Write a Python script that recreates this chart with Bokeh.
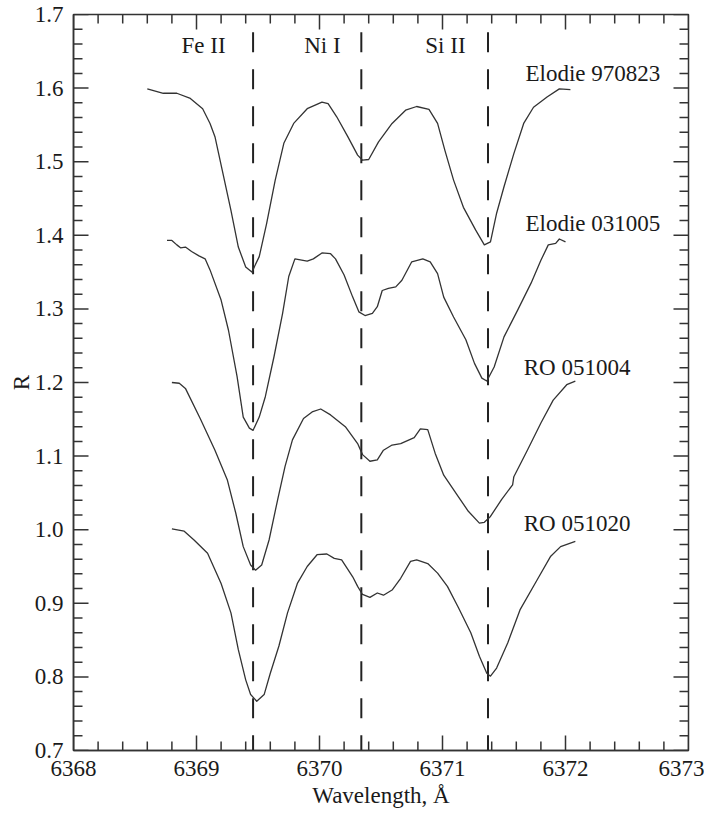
import numpy as np
from bokeh.plotting import figure
from bokeh.models import FixedTicker, NumeralTickFormatter, Label
from bokeh.embed import file_html
from bokeh.resources import INLINE

# ---------------- data ----------------
x_elodie_970823 = [6368.60, 6368.73, 6368.84, 6368.95, 6369.05, 6369.11, 6369.15, 6369.21, 6369.28,
                   6369.34, 6369.40, 6369.45, 6369.51, 6369.57, 6369.64, 6369.71, 6369.79, 6369.90,
                   6370.02, 6370.07, 6370.14, 6370.23, 6370.31, 6370.35, 6370.40, 6370.48, 6370.59,
                   6370.70, 6370.79, 6370.89, 6370.96, 6371.02, 6371.09, 6371.17, 6371.27, 6371.34,
                   6371.39, 6371.44, 6371.50, 6371.58, 6371.66, 6371.74, 6371.85, 6371.95, 6372.04]
y_elodie_970823 = [1.599, 1.593, 1.593, 1.586, 1.572, 1.552, 1.534, 1.488, 1.434,
                   1.384, 1.357, 1.350, 1.371, 1.416, 1.475, 1.525, 1.552, 1.572,
                   1.581, 1.579, 1.561, 1.534, 1.509, 1.502, 1.503, 1.527, 1.552,
                   1.570, 1.575, 1.571, 1.552, 1.515, 1.475, 1.438, 1.407, 1.387,
                   1.391, 1.430, 1.466, 1.511, 1.552, 1.574, 1.588, 1.599, 1.598]

x_elodie_031005 = [6368.76, 6368.80, 6368.84, 6368.87, 6368.91, 6368.96, 6369.02, 6369.07, 6369.11,
                   6369.20, 6369.26, 6369.33, 6369.38, 6369.43, 6369.46, 6369.51, 6369.56, 6369.63,
                   6369.70, 6369.75, 6369.80, 6369.90, 6369.95, 6370.02, 6370.09, 6370.13, 6370.20,
                   6370.27, 6370.32, 6370.37, 6370.43, 6370.47, 6370.51, 6370.56, 6370.62, 6370.67,
                   6370.75, 6370.84, 6370.90, 6370.96, 6371.01, 6371.09, 6371.19, 6371.26, 6371.32,
                   6371.36, 6371.42, 6371.50, 6371.61, 6371.72, 6371.80, 6371.86, 6371.92, 6371.95,
                   6372.00]
y_elodie_031005 = [1.393, 1.393, 1.387, 1.383, 1.384, 1.378, 1.372, 1.368, 1.353,
                   1.312, 1.271, 1.208, 1.153, 1.138, 1.135, 1.153, 1.181, 1.235,
                   1.294, 1.344, 1.368, 1.365, 1.368, 1.376, 1.375, 1.368, 1.346,
                   1.316, 1.296, 1.291, 1.294, 1.303, 1.325, 1.328, 1.330, 1.339,
                   1.364, 1.368, 1.364, 1.348, 1.316, 1.289, 1.258, 1.226, 1.206,
                   1.202, 1.221, 1.262, 1.298, 1.335, 1.366, 1.387, 1.389, 1.395,
                   1.391]

x_ro_051004 = [6368.80, 6368.86, 6368.91, 6369.03, 6369.15, 6369.25, 6369.32, 6369.38, 6369.44,
               6369.48, 6369.53, 6369.59, 6369.66, 6369.72, 6369.78, 6369.87, 6369.94, 6370.01,
               6370.09, 6370.21, 6370.31, 6370.35, 6370.41, 6370.47, 6370.52, 6370.59, 6370.66,
               6370.77, 6370.82, 6370.88, 6370.94, 6371.01, 6371.12, 6371.21, 6371.30, 6371.34,
               6371.39, 6371.48, 6371.57, 6371.58, 6371.69, 6371.80, 6371.90, 6372.01, 6372.08]
y_ro_051004 = [1.200, 1.199, 1.192, 1.151, 1.108, 1.068, 1.022, 0.977, 0.952,
               0.945, 0.952, 0.986, 1.041, 1.086, 1.122, 1.151, 1.160, 1.164,
               1.156, 1.140, 1.117, 1.102, 1.093, 1.095, 1.108, 1.115, 1.117,
               1.125, 1.137, 1.136, 1.104, 1.074, 1.047, 1.025, 1.009, 1.010,
               1.018, 1.041, 1.061, 1.072, 1.108, 1.145, 1.176, 1.197, 1.202]

x_ro_051020 = [6368.80, 6368.90, 6368.98, 6369.09, 6369.20, 6369.28, 6369.34, 6369.40, 6369.44,
               6369.49, 6369.55, 6369.60, 6369.67, 6369.74, 6369.82, 6369.90, 6369.98, 6370.06,
               6370.12, 6370.18, 6370.27, 6370.31, 6370.35, 6370.41, 6370.47, 6370.52, 6370.59,
               6370.66, 6370.74, 6370.79, 6370.88, 6370.96, 6371.04, 6371.13, 6371.23, 6371.30,
               6371.36, 6371.39, 6371.44, 6371.53, 6371.63, 6371.77, 6371.88, 6371.96, 6372.08]
y_ro_051020 = [1.001, 0.998, 0.986, 0.968, 0.927, 0.887, 0.837, 0.796, 0.776,
               0.767, 0.776, 0.805, 0.842, 0.887, 0.927, 0.950, 0.966, 0.967,
               0.961, 0.959, 0.936, 0.923, 0.912, 0.908, 0.914, 0.911, 0.918,
               0.934, 0.957, 0.959, 0.954, 0.941, 0.923, 0.894, 0.860, 0.828,
               0.805, 0.801, 0.812, 0.846, 0.891, 0.932, 0.964, 0.977, 0.984]

series_names = ["Elodie 970823", "Elodie 031005", "RO 051004", "RO 051020"]
line_names = ["Fe II", "Ni I", "Si II"]
line_wavelengths = [6369.46, 6370.34, 6371.37]
x_title = "Wavelength, Å"
y_title = "R"

# ---------------- layout / style ----------------
FONT = "Liberation Serif"
FS = "23px"
INK = "#1a1a1a"
AX = "#333333"
X0, X1 = 6368, 6373
Y0, Y1 = 0.7, 1.7

p = figure(width=704, height=810, x_range=(X0, X1), y_range=(Y0, Y1),
           output_backend="svg", toolbar_location=None,
           min_border_left=73, min_border_right=16, min_border_top=14, min_border_bottom=59)
p.xgrid.visible = False
p.ygrid.visible = False
p.outline_line_color = AX
p.outline_line_width = 1.5
p.background_fill_color = "white"
p.border_fill_color = "white"

x_major = np.arange(X0, X1 + 0.001, 1.0)
x_minor = np.array([v for v in np.arange(X0, X1 + 0.001, 0.2)
                    if abs(v - round(v)) > 1e-6])
y_major = np.round(np.arange(Y0, Y1 + 0.0001, 0.1), 3)
y_minor = np.array([v for v in np.round(np.arange(Y0, Y1 + 0.0001, 0.02), 3)
                    if abs(v * 10 - round(v * 10)) > 1e-6])


def style_axis(ax):
    ax.axis_line_color = AX
    ax.axis_line_width = 1.5
    ax.major_tick_in = 0
    ax.major_tick_out = 0
    ax.minor_tick_in = 0
    ax.minor_tick_out = 0
    ax.major_label_text_font = FONT
    ax.major_label_text_font_size = FS
    ax.major_label_text_color = INK
    ax.axis_label_text_font = FONT
    ax.axis_label_text_font_style = "normal"
    ax.axis_label_text_font_size = FS
    ax.axis_label_text_color = INK


xa = p.xaxis[0]
xa.ticker = FixedTicker(ticks=list(x_major), minor_ticks=[])
xa.formatter = NumeralTickFormatter(format="0")
xa.axis_label = x_title
style_axis(xa)
xa.major_label_standoff = 10
xa.axis_label_standoff = 4

ya = p.yaxis[0]
ya.ticker = FixedTicker(ticks=list(y_major), minor_ticks=[])
ya.formatter = NumeralTickFormatter(format="0.0")
ya.axis_label = y_title
style_axis(ya)
ya.major_label_standoff = 10
ya.axis_label_standoff = -2

# inward ticks on all four sides (screen-length rays)
for xs, L in ((x_major, 15), (x_minor, 9)):
    p.ray(x=xs, y=[Y0] * len(xs), length=L, angle=90, angle_units="deg",
          length_units="screen", line_color=AX, line_width=1.5)
    p.ray(x=xs, y=[Y1] * len(xs), length=L, angle=-90, angle_units="deg",
          length_units="screen", line_color=AX, line_width=1.5)
for ys, L in ((y_major, 15), (y_minor, 9)):
    p.ray(x=[X0] * len(ys), y=ys, length=L, angle=0, angle_units="deg",
          length_units="screen", line_color=AX, line_width=1.5)
    p.ray(x=[X1] * len(ys), y=ys, length=L, angle=180, angle_units="deg",
          length_units="screen", line_color=AX, line_width=1.5)

# dashed line markers
for wl in line_wavelengths:
    p.segment(x0=[wl], y0=[1.676], x1=[wl], y1=[Y0], line_color="#222222",
              line_width=2, line_dash="20 17")

# spectra
curves = [(x_elodie_970823, y_elodie_970823), (x_elodie_031005, y_elodie_031005),
          (x_ro_051004, y_ro_051004), (x_ro_051020, y_ro_051020)]
for xs, ys in curves:
    p.line(x=xs, y=ys, line_color="#333333", line_width=1.3, line_join="round")

# series labels
label_pos = [(6371.675, 1.620), (6371.675, 1.416), (6371.66, 1.220), (6371.66, 1.009)]
for name, (lx, ly) in zip(series_names, label_pos):
    p.add_layout(Label(x=lx, y=ly, text=name, text_font=FONT, text_font_size=FS,
                       text_color=INK, text_align="left", text_baseline="middle"))

# spectral line labels
line_label_x = [6369.057, 6370.024, 6371.024]
for name, lx in zip(line_names, line_label_x):
    p.add_layout(Label(x=lx, y=1.658, text=name, text_font=FONT, text_font_size=FS,
                       text_color=INK, text_align="center", text_baseline="middle"))

open("out.html", "w", encoding="utf-8").write(file_html(p, INLINE))
